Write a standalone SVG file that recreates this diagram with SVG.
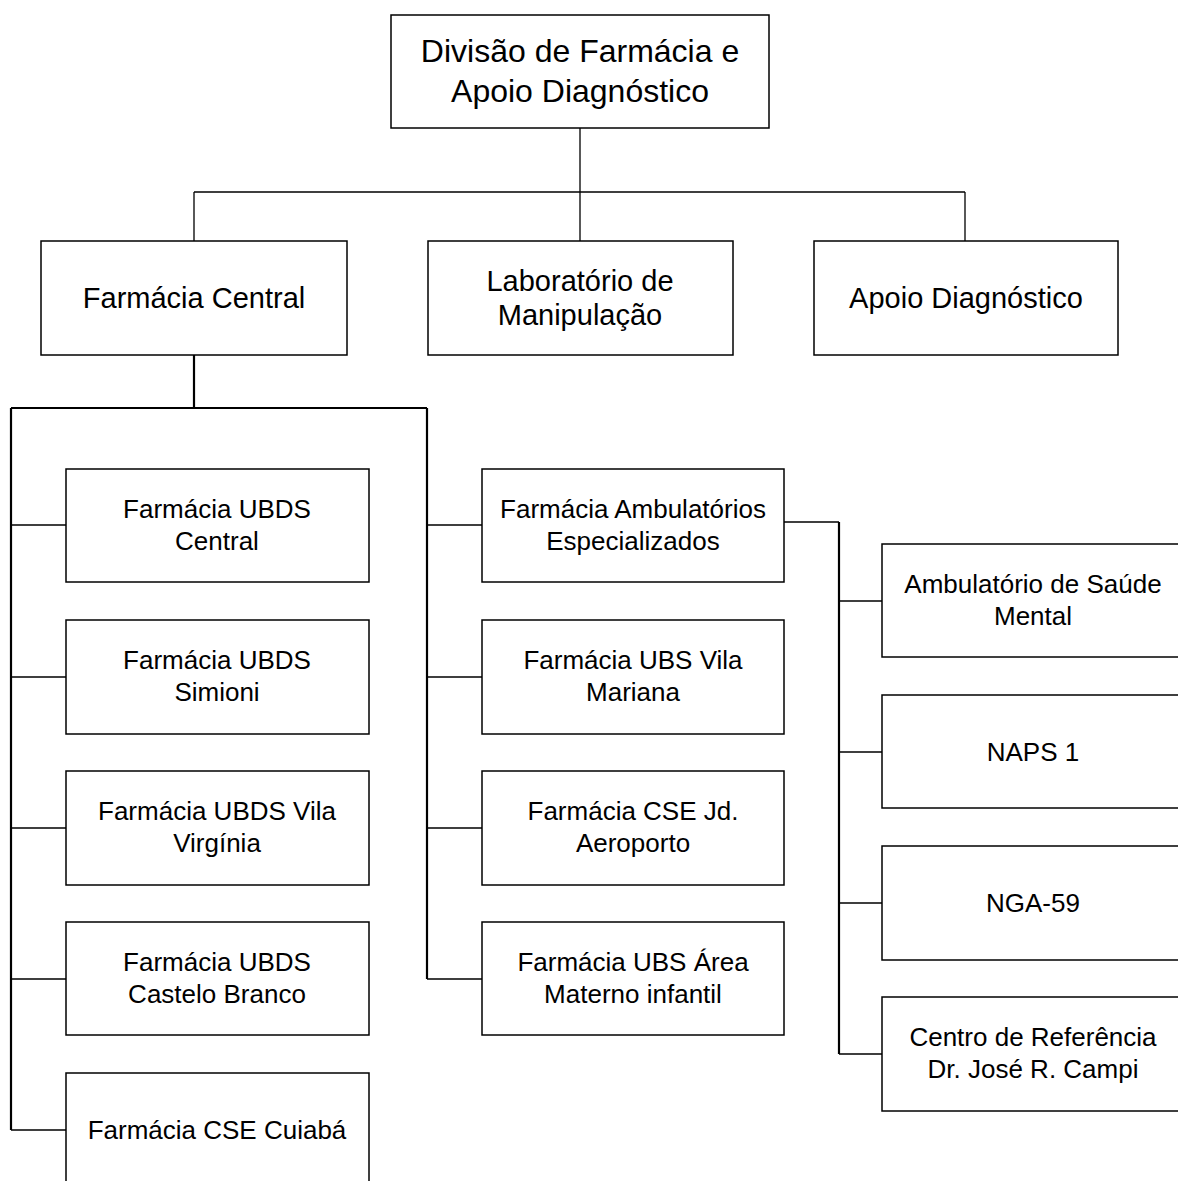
<svg xmlns="http://www.w3.org/2000/svg" width="1178" height="1181" viewBox="0 0 1178 1181">
<style>
rect{fill:#fff;stroke:#000;stroke-width:1.5}
text{font-family:"Liberation Sans",Arial,sans-serif;fill:#000;text-anchor:middle}
.t1{font-size:32px}.t2{font-size:29px}.t3{font-size:26px}
.thin{fill:none;stroke:#000;stroke-width:1.3}
.thick{fill:none;stroke:#000;stroke-width:2.2}
</style>
<rect width="1178" height="1181" style="stroke:none"/>
<g id="connectors">
<path class="thin" d="M580 128V192M194 192H965M194 192V241M580 192V241M965 192V241"/>
<path class="thick" d="M194 355V408M11 408H427M11 408V1130M427 408V979M839 522V1054"/>
<path class="thin" d="M11 525H66M11 677H66M11 828H66M11 979H66M11 1130H66M427 525H482M427 677H482M427 828H482M427 979H482M784 522H839M839 601H882M839 752H882M839 903H882M839 1054H882"/>
</g>
<g id="n0"><rect x="391" y="15" width="378" height="113"/><text class="t1" x="580" y="62">Divisão de Farmácia e</text><text class="t1" x="580" y="102">Apoio Diagnóstico</text></g>
<g id="n1"><rect x="41" y="241" width="306" height="114"/><text class="t2" x="194" y="308">Farmácia Central</text></g>
<g id="n2"><rect x="428" y="241" width="305" height="114"/><text class="t2" x="580" y="291">Laboratório de</text><text class="t2" x="580" y="325">Manipulação</text></g>
<g id="n3"><rect x="814" y="241" width="304" height="114"/><text class="t2" x="966" y="308">Apoio Diagnóstico</text></g>
<g id="n4"><rect x="66" y="469" width="303" height="113"/><text class="t3" x="217" y="518">Farmácia UBDS</text><text class="t3" x="217" y="550">Central</text></g>
<g id="n5"><rect x="66" y="620" width="303" height="114"/><text class="t3" x="217" y="669">Farmácia UBDS</text><text class="t3" x="217" y="701">Simioni</text></g>
<g id="n6"><rect x="66" y="771" width="303" height="114"/><text class="t3" x="217" y="820">Farmácia UBDS Vila</text><text class="t3" x="217" y="852">Virgínia</text></g>
<g id="n7"><rect x="66" y="922" width="303" height="113"/><text class="t3" x="217" y="971">Farmácia UBDS</text><text class="t3" x="217" y="1003">Castelo Branco</text></g>
<g id="n8"><rect x="66" y="1073" width="303" height="130"/><text class="t3" x="217" y="1139">Farmácia CSE Cuiabá</text></g>
<g id="n9"><rect x="482" y="469" width="302" height="113"/><text class="t3" x="633" y="518">Farmácia Ambulatórios</text><text class="t3" x="633" y="550">Especializados</text></g>
<g id="n10"><rect x="482" y="620" width="302" height="114"/><text class="t3" x="633" y="669">Farmácia UBS Vila</text><text class="t3" x="633" y="701">Mariana</text></g>
<g id="n11"><rect x="482" y="771" width="302" height="114"/><text class="t3" x="633" y="820">Farmácia CSE Jd.</text><text class="t3" x="633" y="852">Aeroporto</text></g>
<g id="n12"><rect x="482" y="922" width="302" height="113"/><text class="t3" x="633" y="971">Farmácia UBS Área</text><text class="t3" x="633" y="1003">Materno infantil</text></g>
<g id="n13"><rect x="882" y="544" width="310" height="113"/><text class="t3" x="1033" y="593">Ambulatório de Saúde</text><text class="t3" x="1033" y="625">Mental</text></g>
<g id="n14"><rect x="882" y="695" width="310" height="113"/><text class="t3" x="1033" y="761">NAPS 1</text></g>
<g id="n15"><rect x="882" y="846" width="310" height="114"/><text class="t3" x="1033" y="912">NGA-59</text></g>
<g id="n16"><rect x="882" y="997" width="310" height="114"/><text class="t3" x="1033" y="1046">Centro de Referência</text><text class="t3" x="1033" y="1078">Dr. José R. Campi</text></g>
</svg>
